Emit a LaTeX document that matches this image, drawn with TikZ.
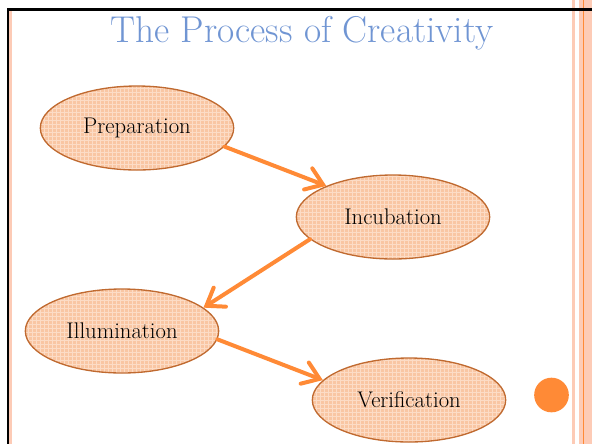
\documentclass[tikz,border=0pt]{standalone}
\usetikzlibrary{shapes.geometric,arrows.meta,patterns}

\definecolor{titleblue}{HTML}{7095D3}
\definecolor{stagefill}{HTML}{F9C6A3}
\definecolor{stagegrid}{HTML}{FCDCC6}
\definecolor{stageedge}{HTML}{C06A30}
\definecolor{linkorange}{HTML}{FF8A36}
\definecolor{stripepink}{HTML}{FDCBB6}

\tikzset{
  stage/.style={ellipse, draw=stageedge, line width=1pt,
    preaction={fill=stagefill},
    preaction={pattern=grid, pattern color=stagegrid},
    minimum width=145pt, minimum height=63pt, inner sep=0pt,
    font=\fontsize{17}{20}\selectfont},
  link/.style={linkorange, line width=3pt, line cap=round,
    -{Straight Barb[length=12pt, width=17pt, line cap=round]}}
}

\begin{document}
\begin{tikzpicture}[x=0.75pt,y=-0.75pt]
  \useasboundingbox (0,0) rectangle (592,444);

  % frame
  \fill[stripepink] (9,10) rectangle (11.5,444);
  \fill[stripepink] (572,0) rectangle (575,444);
  \fill[stripepink] (579,0) rectangle (592,444);
  \draw[linkorange, line width=0.8pt] (583.5,0) -- (583.5,444);
  \draw[black, line width=1.5pt] (8,8) -- (8,444);
  \draw[black, line width=2.2pt] (7,9.5) -- (592,9.5);

  \node[titleblue, font=\fontsize{28}{33}\selectfont] (title) at (302,33) {The Process of Creativity};

  \def \Stages {
    prep/137/128/Preparation,
    incub/393/217/Incubation,
    illum/122/331/Illumination,
    verif/409/400/Verification}
  \def \Links {
    prep/348/incub/155,
    incub/195/illum/16,
    illum/355/verif/167}

  \foreach \id / \x / \y / \w in \Stages {
    \node[stage] (\id) at (\x, \y) {\w};
  }
  \foreach \a / \p / \b / \q in \Links {
    \path[draw,link] (\a.\p) -- (\b.\q);
  }

  \fill[linkorange] (551.5,395) circle (13pt);
\end{tikzpicture}
\end{document}
